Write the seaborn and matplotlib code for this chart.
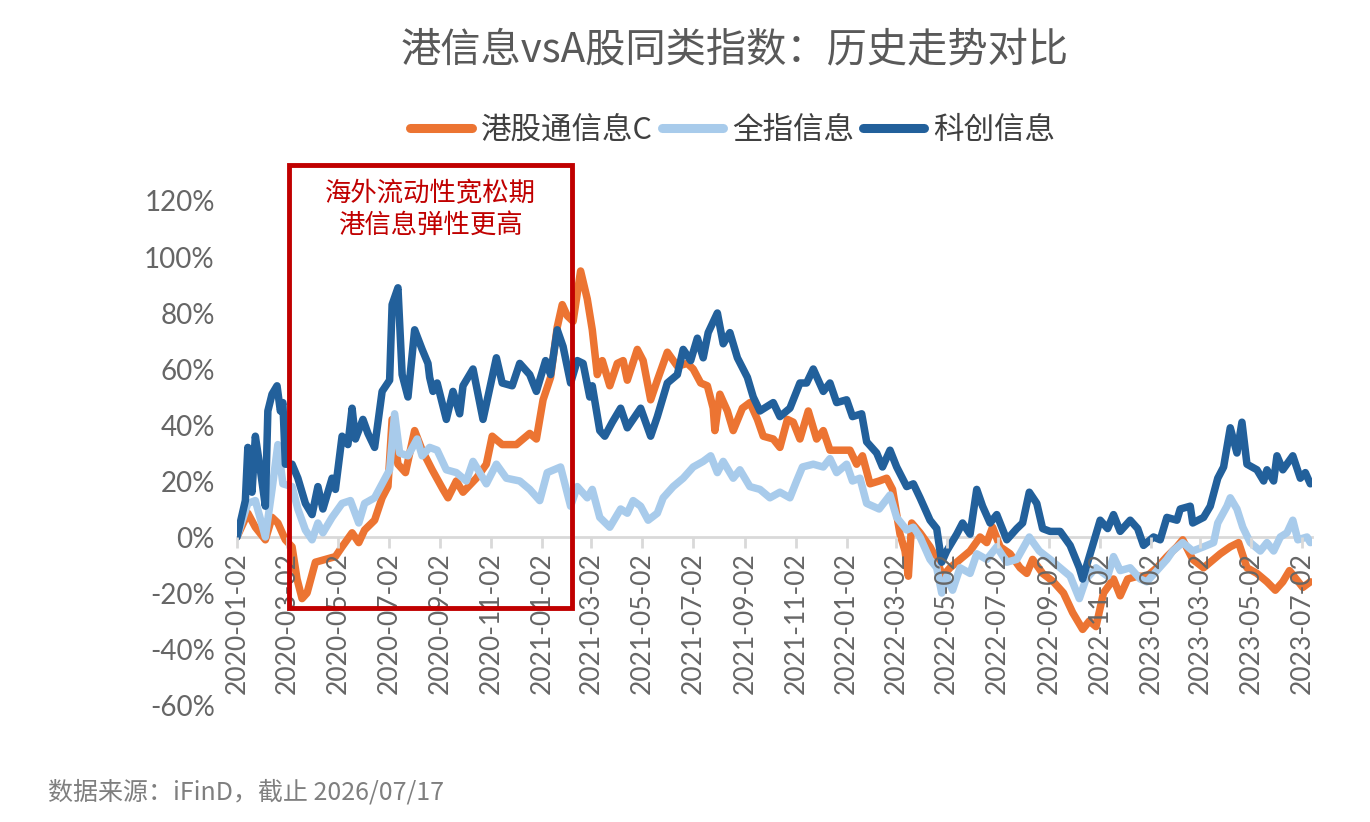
import pandas as pd
import matplotlib
matplotlib.use('Agg')
import matplotlib.pyplot as plt
import matplotlib.dates as mdates
from matplotlib.lines import Line2D
from matplotlib.patches import Rectangle
import seaborn as sns

# 港股通信息C
hk_dates = ['2020-01-02', '2020-01-15', '2020-01-24', '2020-02-05', '2020-02-13', '2020-02-20', '2020-02-29',
            '2020-03-08', '2020-03-14', '2020-03-20', '2020-03-26', '2020-04-05', '2020-04-17', '2020-04-29',
            '2020-05-07', '2020-05-19', '2020-05-27', '2020-06-03', '2020-06-15', '2020-06-24', '2020-07-01',
            '2020-07-06', '2020-07-13', '2020-07-22', '2020-08-02', '2020-08-11', '2020-08-23', '2020-09-05',
            '2020-09-11', '2020-09-21', '2020-09-29', '2020-10-15', '2020-10-27', '2020-11-03', '2020-11-15',
            '2020-12-02', '2020-12-18', '2020-12-26', '2021-01-03', '2021-01-12', '2021-01-20', '2021-01-26',
            '2021-02-01', '2021-02-08', '2021-02-17', '2021-02-25', '2021-03-03', '2021-03-09', '2021-03-15',
            '2021-03-24', '2021-04-02', '2021-04-09', '2021-04-14', '2021-04-26', '2021-05-03', '2021-05-12',
            '2021-05-20', '2021-06-01', '2021-06-13', '2021-06-25', '2021-07-02', '2021-07-11', '2021-07-19',
            '2021-07-26', '2021-07-28', '2021-08-03', '2021-08-12', '2021-08-19', '2021-08-30', '2021-09-08',
            '2021-09-17', '2021-09-24', '2021-10-06', '2021-10-14', '2021-10-23', '2021-10-30', '2021-11-07',
            '2021-11-17', '2021-11-27', '2021-12-05', '2021-12-13', '2021-12-25', '2022-01-06', '2022-01-14',
            '2022-01-21', '2022-01-30', '2022-02-10', '2022-02-19', '2022-02-26', '2022-03-07', '2022-03-13',
            '2022-03-17', '2022-03-21', '2022-03-31', '2022-04-12', '2022-04-20', '2022-04-27', '2022-05-06',
            '2022-05-18', '2022-05-30', '2022-06-11', '2022-06-19', '2022-06-26', '2022-07-05', '2022-07-17',
            '2022-07-29', '2022-08-06', '2022-08-13', '2022-08-25', '2022-09-07', '2022-09-19', '2022-09-30',
            '2022-10-12', '2022-10-20', '2022-10-28', '2022-11-06', '2022-11-18', '2022-11-26', '2022-12-05',
            '2022-12-17', '2022-12-28', '2023-01-09', '2023-01-21', '2023-02-02', '2023-02-09', '2023-02-21',
            '2023-03-06', '2023-03-18', '2023-03-26', '2023-04-07', '2023-04-17', '2023-04-27', '2023-05-09',
            '2023-05-21', '2023-05-31', '2023-06-09', '2023-06-17', '2023-06-25', '2023-07-03', '2023-07-12']
hk_vals = [0, 8.5, 3.5, -1, 7, 5, -1,
           -3.5, -15, -22, -20, -9, -8, -7,
           -3.5, 1.5, -2, 2.5, 6, 14, 18,
           42, 26, 23, 38, 31, 24, 17,
           14, 20, 16, 21, 26, 36, 33,
           33, 37, 35, 49, 57, 75, 83,
           79, 77, 95, 85, 74, 58, 63,
           54, 62, 63, 56, 67, 63, 49,
           56, 66, 61, 62, 60, 55, 54,
           46, 38, 51, 45, 38, 46, 48,
           42, 36, 35, 32, 42, 41, 35,
           45, 35, 38, 31, 31, 31, 26,
           29, 19, 20, 21, 17, 1, -5,
           -14, 5, 1.5, -3.5, -8, -14, -11,
           -8, -5, 0, -2, 3.5, -3.5, -6,
           -11, -13, -8, -13, -16, -20, -27,
           -33, -30, -32, -20, -15, -21, -15,
           -14, -14, -11, -7, -3.5, -1, -8,
           -11, -8, -6, -3.5, -2, -11, -13,
           -16, -19, -16, -12, -15, -18, -16]

# 全指信息
qz_dates = ['2020-01-02', '2020-01-15', '2020-01-24', '2020-02-05', '2020-02-13', '2020-02-20', '2020-02-26',
            '2020-03-08', '2020-03-15', '2020-03-24', '2020-04-01', '2020-04-08', '2020-04-14', '2020-04-25',
            '2020-05-07', '2020-05-17', '2020-05-27', '2020-06-03', '2020-06-15', '2020-06-24', '2020-07-03',
            '2020-07-09', '2020-07-15', '2020-07-25', '2020-08-05', '2020-08-11', '2020-08-20', '2020-08-29',
            '2020-09-09', '2020-09-21', '2020-10-03', '2020-10-11', '2020-10-27', '2020-11-08', '2020-11-20',
            '2020-12-06', '2020-12-18', '2020-12-30', '2021-01-08', '2021-01-24', '2021-02-05', '2021-02-13',
            '2021-02-25', '2021-03-03', '2021-03-12', '2021-03-24', '2021-04-06', '2021-04-14', '2021-04-21',
            '2021-04-30', '2021-05-09', '2021-05-20', '2021-05-27', '2021-06-08', '2021-06-20', '2021-07-02',
            '2021-07-14', '2021-07-23', '2021-07-31', '2021-08-07', '2021-08-19', '2021-08-27', '2021-09-08',
            '2021-09-20', '2021-10-02', '2021-10-14', '2021-10-26', '2021-11-03', '2021-11-10', '2021-11-23',
            '2021-12-05', '2021-12-13', '2021-12-21', '2022-01-02', '2022-01-09', '2022-01-18', '2022-01-26',
            '2022-02-10', '2022-02-23', '2022-03-03', '2022-03-15', '2022-03-23', '2022-03-31', '2022-04-12',
            '2022-04-20', '2022-04-26', '2022-05-02', '2022-05-09', '2022-05-18', '2022-05-30', '2022-06-07',
            '2022-06-19', '2022-07-01', '2022-07-13', '2022-07-25', '2022-08-09', '2022-08-21', '2022-09-03',
            '2022-09-15', '2022-09-27', '2022-10-08', '2022-10-16', '2022-10-28', '2022-11-11', '2022-11-18',
            '2022-11-26', '2022-12-08', '2022-12-20', '2022-12-28', '2023-01-09', '2023-01-21', '2023-01-28',
            '2023-02-09', '2023-02-21', '2023-03-06', '2023-03-18', '2023-03-23', '2023-04-03', '2023-04-07',
            '2023-04-15', '2023-04-22', '2023-05-01', '2023-05-13', '2023-05-21', '2023-05-29', '2023-06-06',
            '2023-06-14', '2023-06-21', '2023-06-27', '2023-07-08', '2023-07-12']
qz_vals = [0, 12, 13, 0, 17, 33, 19,
           18, 10, 2.5, -1, 5, 1.5, 7,
           12, 13, 5, 12, 14, 19, 24,
           44, 30, 29, 35, 29, 32, 31,
           24, 23, 20, 27, 19, 26, 21,
           20, 17, 13, 23, 25, 11, 18,
           14, 17, 7, 3.5, 10, 8.5, 13,
           11, 6, 8.5, 14, 18, 21, 25,
           27, 29, 23, 27, 21, 24, 18,
           17, 14, 16, 14, 20, 25, 26,
           25, 28, 23, 26, 20, 21, 12,
           10, 15, 7, 2.5, 3.5, 0, -8,
           -11, -20, -14, -19, -11, -13, -6,
           -8, -3.5, -9, -8, 0, -5, -8,
           -11, -14, -22, -15, -11, -14, -7,
           -12, -11, -15, -16, -12, -8, -5,
           -2, -5, -3.5, -2, 5, 11, 14,
           10, 3.5, -2, -5, -2, -5, 0,
           1.5, 6, -1, 0, -2]

# 科创信息
kc_dates = ['2020-01-02', '2020-01-12', '2020-01-15', '2020-01-20', '2020-01-24', '2020-01-30', '2020-02-05',
            '2020-02-08', '2020-02-13', '2020-02-19', '2020-02-23', '2020-02-26', '2020-02-29', '2020-03-08',
            '2020-03-15', '2020-03-24', '2020-04-01', '2020-04-08', '2020-04-14', '2020-04-25', '2020-04-29',
            '2020-05-07', '2020-05-14', '2020-05-19', '2020-05-23', '2020-06-01', '2020-06-07', '2020-06-15',
            '2020-06-24', '2020-07-03', '2020-07-06', '2020-07-13', '2020-07-18', '2020-07-25', '2020-08-02',
            '2020-08-11', '2020-08-18', '2020-08-20', '2020-08-24', '2020-08-29', '2020-09-09', '2020-09-17',
            '2020-09-25', '2020-09-29', '2020-10-11', '2020-10-23', '2020-11-08', '2020-11-15', '2020-11-27',
            '2020-12-06', '2020-12-18', '2020-12-26', '2021-01-06', '2021-01-12', '2021-01-20', '2021-01-27',
            '2021-02-05', '2021-02-13', '2021-02-20', '2021-02-28', '2021-03-03', '2021-03-12', '2021-03-18',
            '2021-03-27', '2021-04-06', '2021-04-14', '2021-04-30', '2021-05-12', '2021-05-20', '2021-06-01',
            '2021-06-13', '2021-06-20', '2021-06-29', '2021-07-07', '2021-07-14', '2021-07-20', '2021-07-31',
            '2021-08-07', '2021-08-15', '2021-08-24', '2021-09-05', '2021-09-12', '2021-09-20', '2021-10-06',
            '2021-10-14', '2021-10-26', '2021-11-07', '2021-11-15', '2021-11-23', '2021-12-05', '2021-12-13',
            '2021-12-21', '2022-01-02', '2022-01-09', '2022-01-20', '2022-01-26', '2022-02-07', '2022-02-14',
            '2022-02-23', '2022-03-03', '2022-03-15', '2022-03-23', '2022-03-31', '2022-04-12', '2022-04-20',
            '2022-04-26', '2022-05-02', '2022-05-14', '2022-05-21', '2022-05-30', '2022-06-07', '2022-06-14',
            '2022-06-23', '2022-07-01', '2022-07-13', '2022-07-25', '2022-08-01', '2022-08-09', '2022-08-18',
            '2022-08-25', '2022-09-03', '2022-09-15', '2022-09-27', '2022-10-08', '2022-10-12', '2022-10-20',
            '2022-11-02', '2022-11-11', '2022-11-18', '2022-11-26', '2022-12-08', '2022-12-17', '2022-12-24',
            '2023-01-05', '2023-01-13', '2023-01-21', '2023-02-02', '2023-02-06', '2023-02-18', '2023-02-21',
            '2023-03-06', '2023-03-14', '2023-03-23', '2023-03-30', '2023-04-07', '2023-04-15', '2023-04-21',
            '2023-04-27', '2023-05-09', '2023-05-17', '2023-05-21', '2023-05-29', '2023-06-02', '2023-06-09',
            '2023-06-21', '2023-06-30', '2023-07-06', '2023-07-12']
kc_vals = [0, 13, 32, 16, 36, 24, 11,
           45, 51, 54, 45, 48, 26, 26,
           21, 12, 8, 18, 10, 21, 17,
           36, 33, 46, 35, 42, 37, 32,
           52, 56, 83, 89, 58, 50, 74,
           67, 62, 57, 52, 55, 42, 52,
           44, 54, 60, 42, 64, 55, 54,
           62, 58, 52, 63, 58, 74, 68,
           55, 63, 62, 50, 54, 38, 36,
           41, 46, 39, 46, 36, 43, 55,
           58, 67, 63, 71, 64, 73, 80,
           69, 73, 64, 57, 50, 45, 48,
           43, 46, 55, 55, 60, 52, 55,
           48, 49, 43, 44, 34, 30, 25,
           31, 25, 18, 19, 14, 6, 3,
           -9, -5, 1, 5, 1, 17, 11,
           5, 8, -1, 3, 5, 16, 12,
           3, 2, 2, -3, -11, -15, -7,
           6, 3, 8, 2, 6, 3, -3,
           0, -1, 7, 6, 10, 11, 5,
           7, 11, 21, 25, 39, 30, 41,
           26, 24, 20, 24, 20, 29, 24,
           29, 21, 23, 19]

series_names = ['港股通信息C', '全指信息', '科创信息']
series_colors = ['#EC7432', '#A8CBEB', '#22609B']

tick_labels = ['2020-01-02', '2020-03-02', '2020-05-02', '2020-07-02', '2020-09-02', '2020-11-02',
               '2021-01-02', '2021-03-02', '2021-05-02', '2021-07-02', '2021-09-02', '2021-11-02',
               '2022-01-02', '2022-03-02', '2022-05-02', '2022-07-02', '2022-09-02', '2022-11-02',
               '2023-01-02', '2023-03-02', '2023-05-02', '2023-07-02']

frames = []
for name, d, v in zip(series_names, [hk_dates, qz_dates, kc_dates], [hk_vals, qz_vals, kc_vals]):
    frames.append(pd.DataFrame({'date': pd.to_datetime(d), 'ret': v, 'series': name}))
df = pd.concat(frames, ignore_index=True)

sns.set_theme(style='white')
plt.rcParams['font.family'] = ['Noto Sans CJK SC', 'DejaVu Sans']

grey = '#595959'
fig = plt.figure(figsize=(13.7, 8.22), dpi=100)
ax = fig.add_axes([237 / 1370, 1 - 705 / 822, (1312 - 237) / 1370, (705 - 201) / 822])

sns.lineplot(data=df, x='date', y='ret', hue='series', hue_order=series_names,
             palette=series_colors, linewidth=5.4, estimator=None, sort=False,
             legend=False, ax=ax, solid_joinstyle='round', solid_capstyle='round')

ax.set_xlim(pd.Timestamp('2020-01-02'), pd.Timestamp('2023-07-14'))
ax.set_ylim(-60, 120)
ax.set_yticks(range(-60, 121, 20))
ax.set_yticklabels([f'{t}%' for t in range(-60, 121, 20)])
ax.set_xticks(pd.to_datetime(tick_labels))
ax.set_xticklabels(tick_labels)
ax.set_xlabel('')
ax.set_ylabel('')

for s in ['top', 'right', 'left']:
    ax.spines[s].set_visible(False)
ax.spines['bottom'].set_position(('data', 0))
ax.spines['bottom'].set_color('#D9D9D9')
ax.spines['bottom'].set_linewidth(2)
ax.spines['bottom'].set_zorder(1)
ax.set_axisbelow(False)

ax.tick_params(axis='x', direction='out', length=8, width=2, color='#D9D9D9',
               labelrotation=90, labelsize=19, labelcolor=grey, pad=3, bottom=True)
ax.tick_params(axis='y', length=0, labelsize=20, labelcolor=grey, pad=16)
for lbl in ax.get_xticklabels() + ax.get_yticklabels():
    lbl.set_fontfamily(['Lato', 'DejaVu Sans'])
    lbl.set_fontweight('normal')
    lbl.set_color('#666666')

# highlighted period box
x0 = mdates.date2num(pd.Timestamp('2020-03-04'))
x1 = mdates.date2num(pd.Timestamp('2021-02-07'))
ax.add_patch(Rectangle((x0, -25.5), x1 - x0, 158.5, fill=False, edgecolor='#C00000',
                       linewidth=3.5, clip_on=False, zorder=5))
ax.text((x0 + x1) / 2, 117, '海外流动性宽松期\n港信息弹性更高', ha='center', va='center',
        fontsize=19, color='#C00000', linespacing=1.2, zorder=6)

fig.text(0.536, 1 - 50 / 822, '港信息vsA股同类指数：历史走势对比', ha='center', va='center',
         fontsize=29, color=grey)

handles = [Line2D([0], [0], color=c, linewidth=6.5, solid_capstyle='round') for c in series_colors]
fig.legend(handles, series_names, loc='center', bbox_to_anchor=(0.535, 1 - 130 / 822), ncol=3,
           frameon=False, fontsize=22, handlelength=2.0, handletextpad=0.3, columnspacing=0.3,
           labelcolor='#404040')

fig.text(48 / 1370, 1 - 792 / 822, '数据来源：iFinD，截止 2026/07/17', ha='left', va='center',
         fontsize=18, color='#7F7F7F')

fig.savefig('out.png', dpi=100)
